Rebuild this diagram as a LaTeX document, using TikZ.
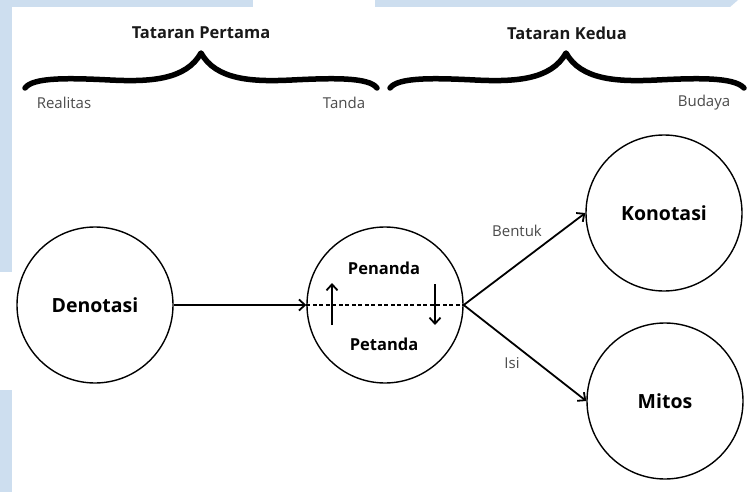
\documentclass[tikz,border=0pt]{standalone}
\usepackage{fontspec}
\setmainfont{Open Sans}
\usetikzlibrary{arrows.meta,calc}
\definecolor{bgblue}{RGB}{205,222,239}
\definecolor{lblgray}{RGB}{75,75,75}
\begin{document}
\begin{tikzpicture}[x=1pt,y=-1pt,
  circ/.style={draw, circle, line width=1.4pt, minimum size=156pt, inner sep=0pt},
  bigtxt/.style={font=\fontsize{19.5}{22}\selectfont\bfseries},
  midtxt/.style={font=\fontsize{16.5}{18}\selectfont\bfseries},
  ttl/.style={font=\fontsize{16.5}{18}\selectfont\bfseries, text=black!90},
  lbl/.style={font=\fontsize{15}{17}\selectfont, text=lblgray},
  bracestroke/.style={line width=5.5pt, line cap=round, line join=round},
  arr/.style={line width=1.8pt, -{Straight Barb[length=6pt,width=11pt,line width=1.8pt]}},
  dashln/.style={line width=1.4pt, dash pattern=on 4pt off 2.5pt}
]
\useasboundingbox (0,0) rectangle (752,492);
\fill[white] (0,0) rectangle (752,492);
% light blue background strips
\fill[bgblue] (0,0) rectangle (12,272);
\fill[bgblue] (0,390) rectangle (12,492);
\fill[bgblue] (0,0) rectangle (253,7);
\fill[bgblue] (375,0) -- (738,0) -- (730,7) -- (375,7) -- cycle;

% braces
\draw[bracestroke] (25,88) .. controls (33,77) and (70,78) .. (110,80)
   .. controls (150,82) and (186,80) .. (201,53)
   .. controls (216,80) and (252,82) .. (292,80)
   .. controls (332,78) and (369,77) .. (377,88);
\begin{scope}[xshift=365pt]
\draw[bracestroke] (25,88) .. controls (33,77) and (70,78) .. (110,80)
   .. controls (150,82) and (186,80) .. (201,53)
   .. controls (216,80) and (252,82) .. (292,80)
   .. controls (332,78) and (369,77) .. (379,88);
\end{scope}

\node[ttl] (t1) at (201,33) {Tataran Pertama};
\node[ttl] (t2) at (567,33) {Tataran Kedua};
\node[lbl] (real) at (64,103) {Realitas};
\node[lbl] (tanda) at (344,103) {Tanda};
\node[lbl] (bud) at (704,103) {Budaya};

% circles
\node[circ] (den) at (95,305) {};
\node[bigtxt] (dent) at (den.center) {Denotasi};
\node[circ] (mid) at (385,305) {};
\node[midtxt] (pen) at (384,268) {Penanda};
\node[midtxt] (pet) at (384,344) {Petanda};
\node[circ] (kon) at (664,213) {};
\node[bigtxt] (kont) at (kon.center) {Konotasi};
\node[circ] (mit) at (665,401) {};
\node[bigtxt] (mitt) at (mit.center) {Mitos};

% connectors
\draw[dashln] (mid.west) -- (mid.east);
\draw[arr] (den.east) -- (mid.west);
\draw[arr] (mid.east) -- (kon.west);
\draw[arr] (mid.east) -- (mit.west);

\coordinate (ua) at (332,325);
\coordinate (ub) at (332,283);
\coordinate (da) at (435,284);
\coordinate (db) at (435,325);
\draw[arr, line width=2pt] (ua) -- (ub);
\draw[arr, line width=2pt] (da) -- (db);

\node[lbl] (bent) at (517,231) {Bentuk};
\node[lbl] (isi) at (512,363) {Isi};
\end{tikzpicture}
\end{document}
